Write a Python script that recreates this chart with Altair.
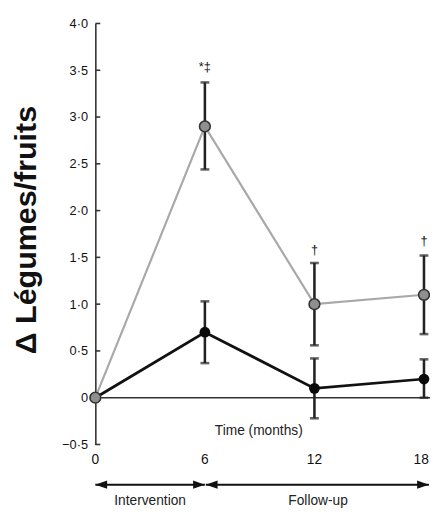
import altair as alt
import pandas as pd

# ---- data ----
months = [0, 6, 12, 18]
grey_mean = [0.0, 2.90, 1.00, 1.10]
grey_lo = [None, 2.44, 0.56, 0.68]
grey_hi = [None, 3.37, 1.44, 1.52]
black_mean = [0.0, 0.70, 0.10, 0.20]
black_lo = [None, 0.37, -0.22, 0.00]
black_hi = [None, 1.03, 0.42, 0.41]

ann_x = [6, 12, 18]
ann_y = [3.53, 1.58, 1.67]
ann_text = ["*‡", "†", "†"]

y_ticks = [-0.5, 0, 0.5, 1.0, 1.5, 2.0, 2.5, 3.0, 3.5, 4.0]
x_ticks = [0, 6, 12]
x_last = [18]

phase_start = [0, 6.05]
phase_end = [6, 18.27]
phase_label = ["Intervention", "Follow-up"]
phase_mid = [3, 12.2]

X_MAX = 18.33

FONT = "Liberation Sans"

grey = pd.DataFrame({"m": months, "v": grey_mean, "lo": grey_lo, "hi": grey_hi})
black = pd.DataFrame({"m": months, "v": black_mean, "lo": black_lo, "hi": black_hi})
grey_err = grey.dropna()
black_err = black.dropna()
ann = pd.DataFrame({"m": ann_x, "v": ann_y, "t": ann_text})
yt = pd.DataFrame({"v": y_ticks})
xt = pd.DataFrame({"m": x_ticks, "t": [str(v) for v in x_ticks]})
xl = pd.DataFrame({"m": x_last, "t": [str(v) for v in x_last]})
phases = pd.DataFrame({"a": phase_start, "b": phase_end, "mid": phase_mid, "t": phase_label})

xs = alt.Scale(domain=[0, X_MAX], nice=False, zero=False)
ys = alt.Scale(domain=[-0.5, 4.0], nice=False, zero=False)

X = alt.X("m:Q", scale=xs, axis=None)
Y = alt.Y("v:Q", scale=ys, axis=alt.Axis(
    values=y_ticks, grid=False, ticks=False, domainColor="#333", domainWidth=1.6,
    labelPadding=8, labelFontSize=13, labelColor="#111", labelFont=FONT,
    labelExpr="datum.value == 0 ? '0' : replace(format(datum.value, '.1f'), '.', '·')",
    title="Δ Légumes/fruits", titleFont=FONT, titleFontSize=31, titleFontWeight="bold",
    titleColor="#111", titleAngle=270, titleBaseline="alphabetic", titleAlign="center",
    titleX=-61, titleY=210))

base_axes = alt.Chart(grey).mark_point(opacity=0).encode(x=X, y=Y)

zero_line = alt.Chart(pd.DataFrame({"m": [0], "m2": [X_MAX], "v": [0]})).mark_rule(
    color="#333", strokeWidth=1.6).encode(
    x=alt.X("m:Q", scale=xs), x2="m2:Q", y=alt.Y("v:Q", scale=ys))

yticks = alt.Chart(yt).mark_rule(color="#333", strokeWidth=1.6).encode(
    x=alt.value(0), x2=alt.value(5), y=alt.Y("v:Q", scale=ys))

XLAB_Y = 445
xlabels = alt.Chart(xt).mark_text(font=FONT, fontSize=14, color="#111", baseline="middle").encode(
    x=alt.X("m:Q", scale=xs), y=alt.value(XLAB_Y), text="t:N")
xlabel_last = alt.Chart(xl).mark_text(font=FONT, fontSize=14, color="#111", baseline="middle",
                                      align="right", dx=5).encode(
    x=alt.X("m:Q", scale=xs), y=alt.value(XLAB_Y), text="t:N")

def errs(df):
    bars = alt.Chart(df).mark_rule(color="#222", strokeWidth=2.6).encode(
        x=alt.X("m:Q", scale=xs), y=alt.Y("lo:Q", scale=ys), y2="hi:Q")
    cap_hi = alt.Chart(df).mark_tick(color="#222", orient="horizontal", size=9, thickness=2.6).encode(
        x=alt.X("m:Q", scale=xs), y=alt.Y("hi:Q", scale=ys))
    cap_lo = alt.Chart(df).mark_tick(color="#222", orient="horizontal", size=9, thickness=2.6).encode(
        x=alt.X("m:Q", scale=xs), y=alt.Y("lo:Q", scale=ys))
    return bars + cap_hi + cap_lo

black_line = alt.Chart(black).mark_line(color="#111", strokeWidth=2.8).encode(
    x=alt.X("m:Q", scale=xs), y=alt.Y("v:Q", scale=ys))
grey_line = alt.Chart(grey).mark_line(color="#a8a8a8", strokeWidth=2.2).encode(
    x=alt.X("m:Q", scale=xs), y=alt.Y("v:Q", scale=ys))
black_pts = alt.Chart(black).mark_point(filled=True, color="#0a0a0a", size=120, opacity=1).encode(
    x=alt.X("m:Q", scale=xs), y=alt.Y("v:Q", scale=ys))
grey_pts = alt.Chart(grey).mark_point(filled=True, fill="#8f8f8f", stroke="#333", strokeWidth=1.6,
                                      size=120, opacity=1).encode(
    x=alt.X("m:Q", scale=xs), y=alt.Y("v:Q", scale=ys))

annot = alt.Chart(ann).mark_text(font=FONT, fontSize=13, color="#111", baseline="middle").encode(
    x=alt.X("m:Q", scale=xs), y=alt.Y("v:Q", scale=ys), text="t:N")

time_lbl = alt.Chart(pd.DataFrame({"m": [8.95], "v": [-0.36], "t": ["Time (months)"]})).mark_text(
    font=FONT, fontSize=14, color="#222", baseline="middle").encode(
    x=alt.X("m:Q", scale=xs), y=alt.Y("v:Q", scale=ys), text="t:N")

ARROW_Y = 470
arrow_lines = alt.Chart(phases).mark_rule(color="#111", strokeWidth=2).encode(
    x=alt.X("a:Q", scale=xs), x2="b:Q", y=alt.value(ARROW_Y))
right_head = "M 0 0 L -4 -1.4 L -4 1.4 Z"
left_head = "M 0 0 L 4 -1.4 L 4 1.4 Z"
heads_r = alt.Chart(phases).mark_point(shape=right_head, filled=True, color="#111", size=36, opacity=1).encode(
    x=alt.X("b:Q", scale=xs), y=alt.value(ARROW_Y))
heads_l = alt.Chart(phases).mark_point(shape=left_head, filled=True, color="#111", size=36, opacity=1).encode(
    x=alt.X("a:Q", scale=xs), y=alt.value(ARROW_Y))
phase_txt = alt.Chart(phases).mark_text(font=FONT, fontSize=14, color="#222", baseline="alphabetic").encode(
    x=alt.X("mid:Q", scale=xs), y=alt.value(491), text="t:N")

chart = alt.layer(
    base_axes, zero_line, yticks, xlabels, xlabel_last, errs(grey_err), errs(black_err),
    black_line, grey_line, black_pts, grey_pts, annot, time_lbl,
    arrow_lines, heads_r, heads_l, phase_txt
).properties(
    width=341, height=429,
    autosize=alt.AutoSizeParams(type="none"),
    padding={"left": 89, "top": 11, "right": 0, "bottom": 63},
    background="white",
).configure_view(stroke=None)

chart.save("out.html", embed_options={"renderer": "svg", "actions": False})
